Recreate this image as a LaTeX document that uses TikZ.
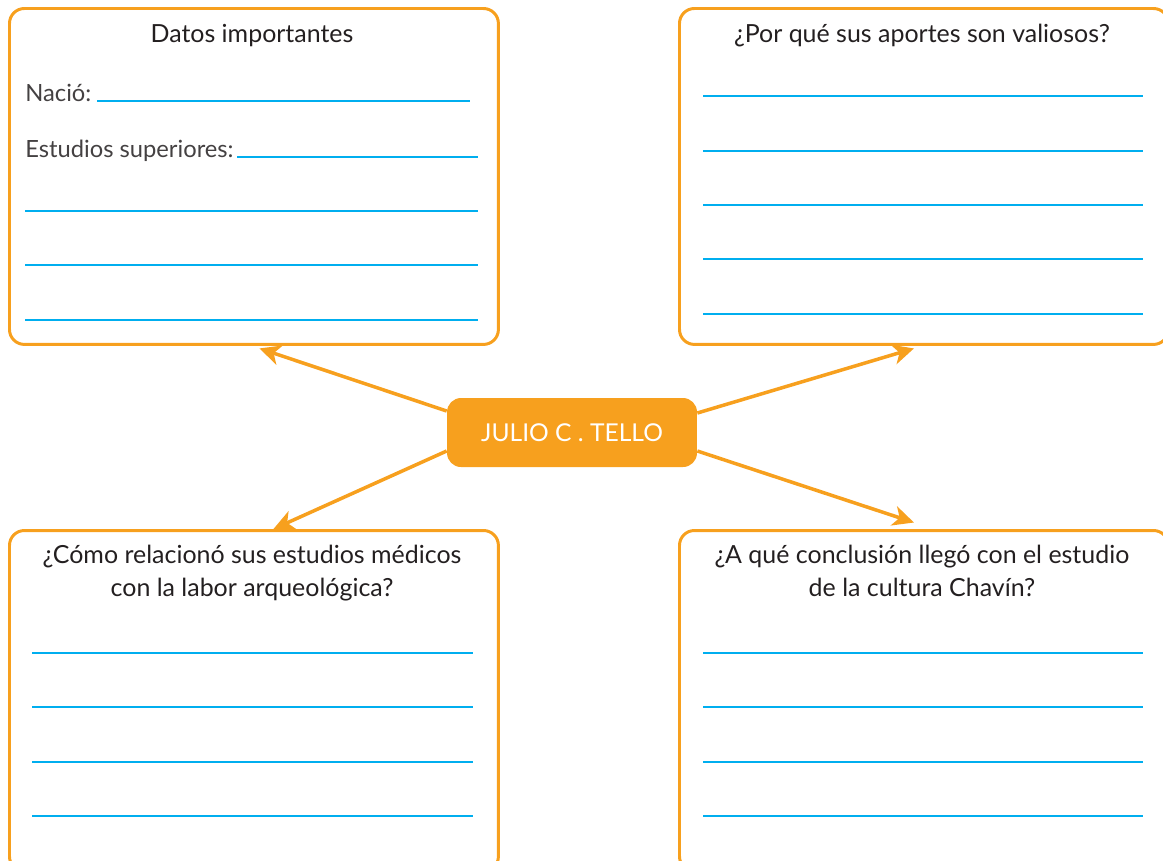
\documentclass[tikz,border=0pt]{standalone}
\usepackage{fontspec}
\setmainfont{Lato}
\usepackage{tikz}
\usetikzlibrary{arrows.meta, positioning}

\definecolor{naranja}{HTML}{F7A01E}
\definecolor{celeste}{HTML}{00AEEF}
\definecolor{texto}{HTML}{231F20}

\tikzset{
	caja/.style={draw=naranja, line width=1.7pt, rounded corners=8.5pt, anchor=north west, minimum width=9.78cm, inner sep=0pt},
	centro/.style={fill=naranja, rounded corners=0.28cm, minimum width=5cm, minimum height=1.38cm, text=white, font=\fontsize{14}{16}\selectfont},
	titulo/.style={anchor=base, text=texto, font=\fontsize{14.2}{17}\selectfont},
	dato/.style={anchor=base west, text=texto!85, font=\fontsize{13.5}{16}\selectfont},
	renglon/.style={draw=celeste, line width=0.75pt},
	flecha/.style={draw=naranja, line width=2pt, -{Stealth[length=0.42cm, width=0.4cm, inset=0.12cm]}}
}

\begin{document}
\begin{tikzpicture}[x=0.02cm, y=-0.02cm]
			\useasboundingbox (0,0) rectangle (1163,860);
			\clip (0,0) rectangle (1163,860);
			
			% Cajas
			\node[caja, minimum height=6.72cm] (datos) at (8,7) {};
			\node[caja, minimum height=6.72cm] (aportes) at (678,7) {};
			\node[caja, minimum height=6.82cm] (medicos) at (8,529) {};
			\node[caja, minimum height=6.82cm] (chavin) at (678,529) {};
			
			% Nodo central
			\node[centro] (julio) at (572,432.5) {JULIO C . TELLO};
			
			% Titulos
			\node[titulo] (t1) at (252,42) {Datos importantes};
			\node[titulo] (t2) at (922,42) {¿Por qué sus aportes son valiosos?};
			\node[titulo] (t3a) at (252,563) {¿Cómo relacionó sus estudios médicos};
			\node[titulo] (t3b) at (252,596) {con la labor arqueológica?};
			\node[titulo] (t4a) at (922,563) {¿A qué conclusión llegó con el estudio};
			\node[titulo] (t4b) at (922,596) {de la cultura Chavín?};
			
			% Datos
			\node[dato, inner sep=0pt] (nacio) at (25,101) {Nació:};
			\node[dato, inner sep=0pt] (estudios) at (25,157) {Estudios superiores:};
			
			% Renglones
			\draw[renglon] (97,101) -- (470,101);
			\draw[renglon] (237,157) -- (478,157);
			\foreach \y in {211,265,320} {
				\draw[renglon] (25,\y) -- (478,\y);
			}
			\foreach \y in {96,151,205,259,314} {
				\draw[renglon] (703,\y) -- (1143,\y);
			}
			\foreach \y in {653,707,762,816} {
				\draw[renglon] (32,\y) -- (473,\y);
				\draw[renglon] (703,\y) -- (1143,\y);
			}
			
			% Flechas
			\draw[flecha] ([yshift=0.43cm]julio.west) -- ([xshift=0.11cm, yshift=-0.05cm]datos.south);
			\draw[flecha] ([yshift=-0.37cm]julio.west) -- ([xshift=0.39cm]medicos.north);
			\draw[flecha] ([yshift=0.39cm]julio.east) -- ([xshift=-0.2cm, yshift=-0.05cm]aportes.south);
			\draw[flecha] ([yshift=-0.37cm]julio.east) -- ([xshift=-0.2cm, yshift=0.13cm]chavin.north);
		\end{tikzpicture}
\end{document}
